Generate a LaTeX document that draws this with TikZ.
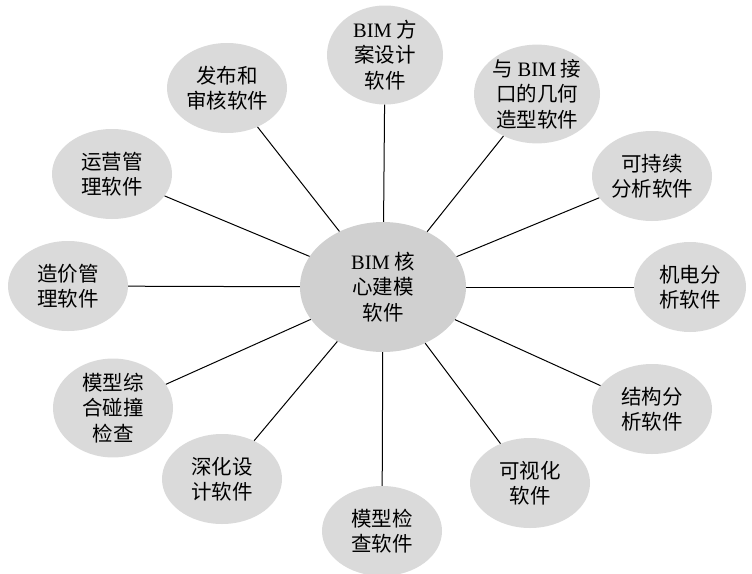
\documentclass[tikz,border=0pt]{standalone}
\usepackage{fontspec}
\setmainfont{Liberation Serif}
\newfontfamily\cjk{Noto Sans CJK SC}
\usetikzlibrary{shapes.geometric}

\tikzset{
    soft/.style={ellipse, fill=satgrey, minimum width=120pt, minimum height=90pt,
        inner sep=0pt, align=center, font=\cjk\fontsize{20.5}{25.5}\selectfont},
    hub/.style={soft, fill=hubgrey, minimum width=166pt, minimum height=130pt},
    spoke/.style={line width=1pt, black}
}

\begin{document}
\begin{tikzpicture}[x=1pt, y=-1pt]
        \definecolor{satgrey}{RGB}{218,218,218}
        \definecolor{hubgrey}{RGB}{208,208,208}

        \useasboundingbox (0, 0) rectangle (752, 573);

        % the core package
        \node[hub] (core) at (383, 287) {{\rmfamily BIM} 核\\心建模\\软件};

        % the ring, clockwise from the top
        \node[soft, minimum width=116pt, minimum height=96pt] (fangan) at (385, 55) {{\rmfamily BIM} 方\\案设计\\软件};
        \node[soft, minimum width=126pt, minimum height=92pt] (jiekou) at (537, 94) {与 {\rmfamily BIM} 接\\口的几何\\造型软件};
        \node[soft] (kechixu) at (652, 176) {可持续\\分析软件};
        \node[soft, minimum width=112pt] (jidian) at (690, 287) {机电分\\析软件};
        \node[soft] (jiegou) at (652, 409) {结构分\\析软件};
        \node[soft] (keshihua) at (530, 483) {可视化\\软件};
        \node[soft] (jiancha) at (382, 531) {模型检\\查软件};
        \node[soft] (shenhua) at (222, 479) {深化设\\计软件};
        \node[soft, minimum height=93pt] (pengzhuang) at (113, 408) {模型综\\合碰撞\\检查};
        \node[soft] (zaojia) at (68, 286) {造价管\\理软件};
        \node[soft] (yunying) at (112, 174) {运营管\\理软件};
        \node[soft] (fabu) at (227, 88) {发布和\\审核软件};

        \foreach \sat in {fangan, jiekou, kechixu, jidian, jiegou, keshihua,
                          jiancha, shenhua, pengzhuang, zaojia, yunying, fabu}
            \draw[spoke] (core) -- (\sat);

\end{tikzpicture}
\end{document}
